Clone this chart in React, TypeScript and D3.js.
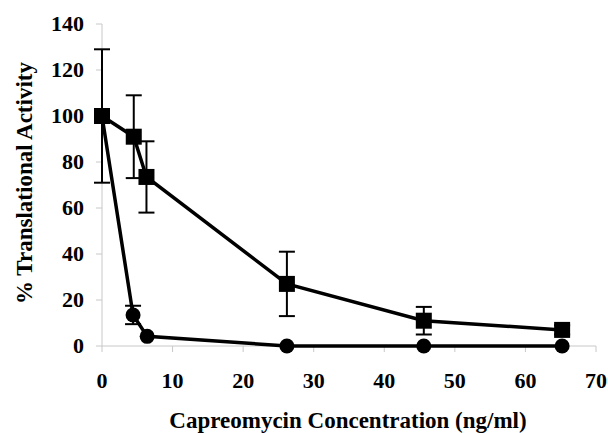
import * as d3 from 'd3';
import React from 'react';

// concentration (ng/ml)
const squareX = [0, 4.5, 6.3, 26.2, 45.6, 65.2];
const squareY = [100, 91, 73.5, 27, 11, 7];
const squareErr = [29, 18, 15.5, 14, 6, 2];

const circleX = [0, 4.4, 6.4, 26.2, 45.6, 65.2];
const circleY = [100, 13.5, 4.2, 0, 0, 0];
const circleErr = [0, 4, 0, 0, 0, 0];

const xTicks = [0, 10, 20, 30, 40, 50, 60, 70];
const yTicks = [0, 20, 40, 60, 80, 100, 120, 140];

const W = 608;
const H = 433;

export default function App() {
    const x = d3.scaleLinear().domain([0, 70]).range([102, 596]);
    const y = d3.scaleLinear().domain([0, 140]).range([346, 24]);
    const font = '"Liberation Serif", "Times New Roman", serif';
    const axisColor = '#c8c8c8';

    const line = d3.line<[number, number]>()
        .x(d => x(d[0]))
        .y(d => y(d[1]));

    const squarePts = squareX.map((v, i) => [v, squareY[i]] as [number, number]);
    const circlePts = circleX.map((v, i) => [v, circleY[i]] as [number, number]);

    const errBar = (cx: number, cy: number, e: number, key: string) => {
        if (!e) return null;
        const px = x(cx);
        const top = y(cy + e);
        const bot = y(cy - e);
        return (
            <g key={key} stroke="#000" strokeWidth={2}>
                <line x1={px} x2={px} y1={top} y2={bot} />
                <line x1={px - 8} x2={px + 8} y1={top} y2={top} />
                <line x1={px - 8} x2={px + 8} y1={bot} y2={bot} />
            </g>
        );
    };

    return (
        <svg width={W} height={H} style={{ position: 'absolute', left: 0, top: 0, background: '#fff' }}
            fontFamily={font} fontWeight="bold">
            {/* axes */}
            <line x1={x(0)} x2={x(70)} y1={y(0)} y2={y(0)} stroke={axisColor} strokeWidth={1} />
            <line x1={x(0)} x2={x(0)} y1={y(0)} y2={y(140)} stroke={axisColor} strokeWidth={1} />
            {xTicks.map(t => (
                <g key={'xt' + t}>
                    <line x1={x(t)} x2={x(t)} y1={y(0)} y2={y(0) + 6} stroke={axisColor} />
                    <text x={x(t)} y={388} textAnchor="middle" fontSize={22}>{t}</text>
                </g>
            ))}
            {yTicks.map(t => (
                <g key={'yt' + t}>
                    <line x1={x(0) - 6} x2={x(0)} y1={y(t)} y2={y(t)} stroke={axisColor} />
                    <text x={84} y={y(t) + 7} textAnchor="end" fontSize={22}>{t}</text>
                </g>
            ))}

            {/* error bars */}
            {squareX.map((v, i) => errBar(v, squareY[i], squareErr[i], 'se' + i))}
            {circleX.map((v, i) => errBar(v, circleY[i], circleErr[i], 'ce' + i))}

            {/* lines */}
            <path d={line(circlePts) || ''} fill="none" stroke="#000" strokeWidth={3.5} />
            <path d={line(squarePts) || ''} fill="none" stroke="#000" strokeWidth={3.5} />

            {/* markers */}
            {circlePts.map((p, i) => (
                <circle key={'c' + i} cx={x(p[0])} cy={y(p[1])} r={7.5} fill="#000" />
            ))}
            {squarePts.map((p, i) => (
                <rect key={'s' + i} x={x(p[0]) - 8} y={y(p[1]) - 8} width={16} height={16} fill="#000" />
            ))}

            {/* titles */}
            <text x={348} y={428} textAnchor="middle" fontSize={23}>Capreomycin Concentration (ng/ml)</text>
            <text transform={`translate(32,183) rotate(-90)`} textAnchor="middle" fontSize={23}>% Translational Activity</text>
        </svg>
    );
}
